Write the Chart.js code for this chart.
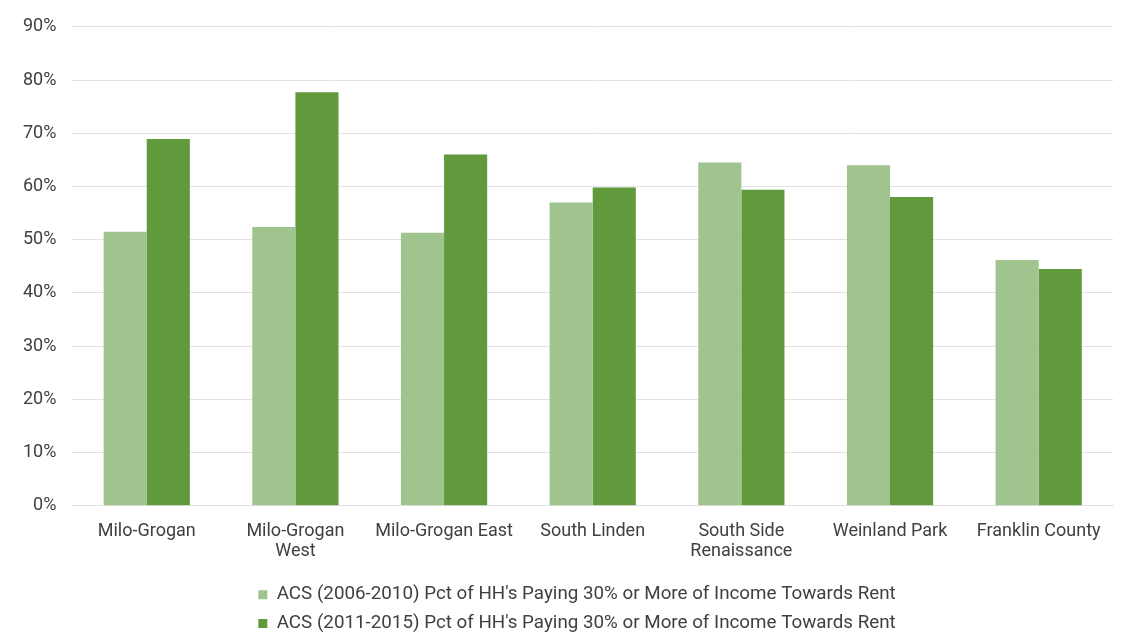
<!DOCTYPE html>
<html>
<head>
<meta charset="utf-8">
<script src="https://cdn.jsdelivr.net/npm/chart.js@4"></script>
<style>
  html, body { margin: 0; padding: 0; background: #fff; }
  #wrap { width: 1125px; height: 638px; }
</style>
</head>
<body>
<div id="wrap"><canvas id="chart"></canvas></div>
<script>
const neighborhoods = [
  "Milo-Grogan",
  ["Milo-Grogan", "West"],
  "Milo-Grogan East",
  "South Linden",
  ["South Side", "Renaissance"],
  "Weinland Park",
  "Franklin County"
]

const acs2006to2010 = [51.5, 52.4, 51.3, 57.0, 64.5, 64.0, 46.2]
const acs2011to2015 = [68.9, 77.7, 66.0, 59.8, 59.4, 58.0, 44.5]

const seriesNames = [
  "ACS (2006-2010) Pct of HH's Paying 30% or More of Income Towards Rent",
  "ACS (2011-2015) Pct of HH's Paying 30% or More of Income Towards Rent"
]

const textColor = "#404040"
const gridColor = "#e2e2e2"

// nudge the legend a bit right, like the original
const legendShift = {
  id: 'legendShift',
  afterLayout(chart) {
    chart.legend.left += 17
    chart.legend.right += 17
  }
}

let chartCanvas = document.getElementById("chart")

let chart = new Chart(chartCanvas, {
  type: 'bar',
  plugins: [legendShift],
  data: {
    labels: neighborhoods,
    datasets: [{
      label: seriesNames[0],
      data: acs2006to2010,
      backgroundColor: '#a0c48d',
      categoryPercentage: 0.58,
      barPercentage: 1.0
    }, {
      label: seriesNames[1],
      data: acs2011to2015,
      backgroundColor: '#61993d',
      categoryPercentage: 0.58,
      barPercentage: 1.0
    }]
  },
  options: {
    responsive: true,
    maintainAspectRatio: false,
    animation: false,
    layout: {
      padding: {top: 24, left: 7, right: 12, bottom: -5}
    },
    plugins: {
      tooltip: {enabled: false},
      legend: {
        position: 'bottom',
        labels: {
          color: textColor,
          font: {family: 'Roboto', size: 18.8},
          boxWidth: 9,
          boxHeight: 9,
          padding: 10
        }
      }
    },
    scales: {
      x: {
        grid: {display: false},
        border: {color: gridColor},
        ticks: {
          color: textColor,
          font: {family: 'Roboto', size: 18, lineHeight: 1.1},
          maxRotation: 0,
          autoSkip: false,
          padding: 8
        },
        afterFit: (scale) => { scale.height += 6 }
      },
      y: {
        min: 0,
        max: 90,
        grid: {color: gridColor, drawTicks: false},
        border: {display: false},
        ticks: {
          stepSize: 10,
          color: textColor,
          font: {family: 'Roboto', size: 18},
          padding: 16,
          callback: (value) => value + "%"
        }
      }
    }
  }
})
</script>
</body>
</html>
